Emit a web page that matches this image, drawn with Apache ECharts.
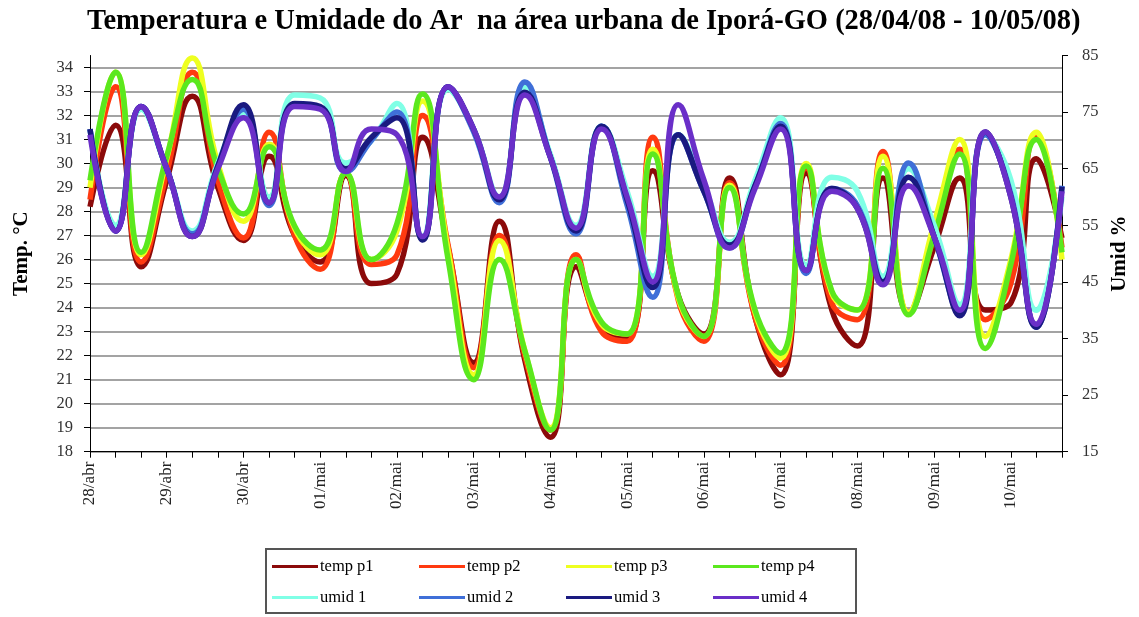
<!DOCTYPE html>
<html>
<head>
<meta charset="utf-8">
<script src="https://cdn.jsdelivr.net/npm/echarts@6/dist/echarts.min.js"></script>
<style>
  html, body { margin: 0; padding: 0; background: #fff; }
  #chart { width: 1139px; height: 617px; }
</style>
</head>
<body>
<div id="chart"></div>
<script>
// dias (3 leituras por dia)
const dayLabels = ['28/abr', '29/abr', '30/abr', '01/mai', '02/mai', '03/mai', '04/mai',
  '05/mai', '06/mai', '07/mai', '08/mai', '09/mai', '10/mai'];
const readingsPerDay = 3;

// temperatura (°C)
const tempP1 = [28.2, 31.6, 25.7, 29.3, 32.8, 29.0, 26.8, 30.3, 27.0, 25.9, 29.5, 25.0, 25.4, 31.1, 26.5, 21.7, 27.6, 21.8, 18.6, 25.7,
  23.2, 22.7, 29.7, 24.5, 22.9, 29.4, 23.6, 21.2, 29.6, 23.9, 22.4, 29.4, 23.8, 26.5, 29.4, 23.9, 24.2, 30.2, 26.9];
const tempP2 = [28.5, 33.2, 25.9, 29.6, 33.8, 29.3, 26.9, 31.3, 27.0, 25.6, 29.6, 25.8, 26.2, 32.0, 26.6, 21.5, 27.0, 22.0, 18.9, 26.2,
  23.0, 22.6, 31.1, 24.3, 22.6, 29.2, 23.6, 21.6, 29.8, 24.2, 23.5, 30.5, 23.8, 27.0, 30.6, 23.5, 25.0, 31.2, 26.5];
const tempP3 = [29.0, 33.8, 26.2, 30.2, 34.4, 30.0, 27.6, 30.8, 27.3, 26.2, 29.6, 26.0, 27.2, 32.6, 26.4, 21.2, 26.8, 22.2, 19.0, 26.0,
  23.3, 22.9, 30.6, 24.4, 22.8, 29.1, 23.8, 21.9, 30.0, 24.6, 23.9, 30.3, 23.8, 27.5, 31.0, 22.8, 26.0, 31.3, 26.0];
const tempP4 = [29.3, 33.8, 26.3, 30.3, 33.5, 29.8, 27.9, 30.7, 27.4, 26.4, 29.6, 26.0, 27.5, 32.9, 26.0, 21.0, 26.0, 22.2, 18.9, 26.0,
  23.4, 22.9, 30.4, 24.5, 22.8, 29.0, 23.9, 22.1, 29.9, 24.7, 23.9, 29.8, 23.7, 27.0, 30.4, 22.3, 25.8, 31.0, 26.3];

// umidade (%)
const umid1 = [72, 55, 75.5, 65, 54, 66, 75, 60, 78, 77.5, 66, 70, 76.5, 53, 79, 72, 60, 79.5, 67.5, 55,
  72.5, 61, 46, 71, 62, 52, 63, 74, 48, 63.5, 61, 46, 65, 55, 41, 71, 63, 40, 60];
const umid2 = [72, 54, 76, 65, 53.5, 65.5, 75.5, 58.5, 76.3, 75.8, 64.5, 70, 75, 52.5, 79.5, 71.5, 59, 80.3, 67, 53.5,
  72.5, 58.5, 42.3, 71, 61, 51, 62, 73, 46.5, 61.5, 58.5, 45, 66, 53, 39.5, 71, 60.5, 37, 62];
const umid3 = [72, 54, 76, 65, 53, 65.5, 76.3, 59, 76.5, 76, 65, 70.5, 74, 52.4, 79.5, 72, 59.5, 78.5, 67, 54,
  72.5, 59.5, 44, 71, 61, 51.5, 62, 72.5, 47, 61.5, 58, 45, 63.5, 53, 39, 71.5, 60, 37, 61.8];
const umid4 = [71, 54, 76, 65, 53, 65, 74, 59, 76, 75.5, 64.5, 72, 71, 53, 79.5, 72, 60, 78, 67, 54.5,
  72, 60, 45, 76.3, 63, 51, 61.5, 72, 47, 61, 58, 44.5, 62, 53, 40, 71.5, 60, 37.5, 61];

const categories = [];
dayLabels.forEach(d => {
  for (let k = 0; k < readingsPerDay; k++) categories.push(d + '|' + k);
});

const serif = '"Liberation Serif", "DejaVu Serif", serif';

function line(name, data, color, axis) {
  return {
    name: name,
    type: 'line',
    yAxisIndex: axis,
    data: data,
    smooth: 0.5,
    showSymbol: false,
    symbol: 'none',
    lineStyle: { color: color, width: 5.5 },
    itemStyle: { color: color }
  };
}

const chart = echarts.init(document.getElementById('chart'));
chart.setOption({
  backgroundColor: '#fff',
  animation: false,
  title: {
    text: 'Temperatura e Umidade do Ar  na área urbana de Iporá-GO (28/04/08 - 10/05/08)',
    left: 82,
    top: 2,
    textStyle: { fontFamily: serif, fontSize: 28.5, fontWeight: 'bold', color: '#000' }
  },
  legend: {
    left: 266,
    top: 549,
    width: 610,
    padding: [9, 10, 7, 6],
    itemWidth: 46,
    itemHeight: 14,
    itemGap: 14,
    borderColor: '#555',
    borderWidth: 2,
    icon: 'path://M0,6 L46,6 L46,9 L0,9 Z',
    textStyle: { fontFamily: serif, fontSize: 16.5, color: '#000', width: 85, lineHeight: 17, padding: [0, 0, 0, -3] },
    data: ['temp p1', 'temp p2', 'temp p3', 'temp p4', 'umid 1', 'umid 2', 'umid 3', 'umid 4']
  },
  grid: { left: 90, right: 77, top: 55.5, bottom: 165.3, containLabel: false },
  xAxis: {
    type: 'category',
    data: categories,
    boundaryGap: false,
    axisLine: { lineStyle: { color: '#000', width: 1 } },
    axisTick: { show: true, interval: 0, length: 6, lineStyle: { color: '#000' } },
    axisLabel: {
      interval: readingsPerDay - 1,
      rotate: 90,
      margin: 10,
      fontFamily: serif,
      fontSize: 17,
      color: '#222',
      formatter: v => v.split('|')[0]
    },
    splitLine: { show: false }
  },
  yAxis: [
    {
      type: 'value',
      min: 18,
      max: 34.5,
      interval: 1,
      name: 'Temp. °C',
      nameLocation: 'middle',
      nameRotate: 90,
      nameGap: 58,
      nameTextStyle: { fontFamily: serif, fontSize: 21, fontWeight: 'bold', color: '#000' },
      axisLine: { show: true, lineStyle: { color: '#000', width: 1 } },
      axisTick: { show: true, length: 6, lineStyle: { color: '#000' } },
      axisLabel: { showMaxLabel: false, margin: 17, fontFamily: serif, fontSize: 16.5, color: '#333' },
      splitLine: { show: true, showMaxLine: false, lineStyle: { color: '#858585', width: 1.5 } }
    },
    {
      type: 'value',
      min: 15,
      max: 85,
      interval: 10,
      position: 'right',
      name: 'Umid %',
      nameLocation: 'middle',
      nameRotate: 90,
      nameGap: 46,
      nameTextStyle: { fontFamily: serif, fontSize: 21, fontWeight: 'bold', color: '#000' },
      axisLine: { show: true, lineStyle: { color: '#000', width: 1 } },
      axisTick: { show: true, length: 6, lineStyle: { color: '#000' } },
      axisLabel: { margin: 20, fontFamily: serif, fontSize: 16.5, color: '#333' },
      splitLine: { show: false }
    }
  ],
  series: [
    line('temp p1', tempP1, '#8B0A0A', 0),
    line('temp p2', tempP2, '#FF3A10', 0),
    line('temp p3', tempP3, '#EEFF20', 0),
    line('temp p4', tempP4, '#5BE81E', 0),
    line('umid 1', umid1, '#80FFE6', 1),
    line('umid 2', umid2, '#3F6FD8', 1),
    line('umid 3', umid3, '#1A1A80', 1),
    line('umid 4', umid4, '#6A2FC8', 1)
  ]
});
</script>
</body>
</html>
